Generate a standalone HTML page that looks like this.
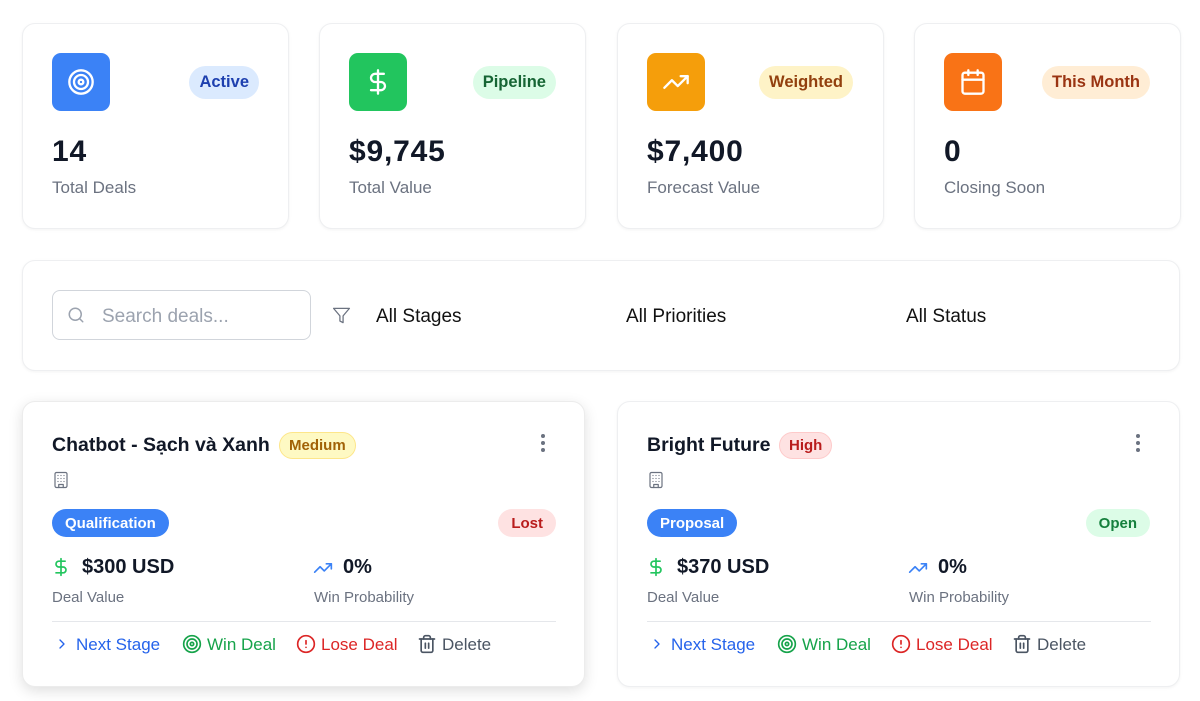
<!DOCTYPE html>
<html>
<head>
<meta charset="utf-8">
<style>
  html,body{margin:0;padding:0;}
  body{width:1200px;height:701px;background:#ffffff;position:relative;overflow:hidden;
       font-family:"Liberation Sans","Noto Sans CJK SC",sans-serif;color:#111827;}
  .abs{position:absolute;}
  .card{position:absolute;background:#fff;border:1px solid #eeeff1;border-radius:13px;
        box-shadow:0 1px 3px rgba(0,0,0,0.05);box-sizing:border-box;}
  .ibox{position:absolute;width:58px;height:58px;border-radius:9px;display:flex;align-items:center;justify-content:center;}
  .badge{position:absolute;height:33px;line-height:33px;padding:0 10px;border-radius:999px;font-size:16.5px;font-weight:bold;white-space:nowrap;}
  .num{position:absolute;font-size:30px;line-height:30px;font-weight:bold;letter-spacing:0.8px;color:#111827;white-space:nowrap;}
  .lbl{position:absolute;font-size:17px;line-height:17px;color:#6b7280;white-space:nowrap;}
  .t19{position:absolute;font-size:19px;line-height:19px;white-space:nowrap;}
  .title{position:absolute;font-size:19.5px;line-height:19.5px;font-weight:bold;color:#111827;white-space:nowrap;}
  .prio{position:absolute;height:27px;line-height:26px;box-sizing:border-box;padding:0 9px;border-radius:999px;font-size:15px;font-weight:bold;white-space:nowrap;}
  .pill{position:absolute;top:509px;height:28px;line-height:30px;padding:0 13px;border-radius:999px;font-size:15px;font-weight:bold;white-space:nowrap;}
  .val{position:absolute;top:557.4px;font-size:20px;line-height:20px;font-weight:bold;color:#111827;white-space:nowrap;}
  .sub{position:absolute;top:589.6px;font-size:15px;line-height:15px;color:#6b7280;white-space:nowrap;}
  .act{position:absolute;top:635.6px;font-size:17px;line-height:17px;white-space:nowrap;}
  .dot{position:absolute;width:4px;height:4px;border-radius:50%;background:#6b7280;}
  svg{position:absolute;overflow:visible;}
</style>
</head>
<body>

<!-- ===== Stat cards ===== -->
<div class="card" style="left:22px;top:23px;width:267px;height:206px;"></div>
<div class="card" style="left:319px;top:23px;width:267px;height:206px;"></div>
<div class="card" style="left:617px;top:23px;width:267px;height:206px;"></div>
<div class="card" style="left:914px;top:23px;width:267px;height:206px;"></div>

<!-- card 1 -->
<div class="ibox" style="left:52px;top:53px;background:#3b82f6;">
  <svg style="position:static" width="28" height="28" viewBox="0 0 24 24" fill="none" stroke="#fff" stroke-width="2" stroke-linecap="round" stroke-linejoin="round">
    <circle cx="12" cy="12" r="10"/><circle cx="12" cy="12" r="6"/><circle cx="12" cy="12" r="2"/>
  </svg>
</div>
<div class="badge" style="right:941px;top:66px;background:#dbeafe;color:#1e40af;">Active</div>
<div class="num" style="left:52px;top:137.3px;">14</div>
<div class="lbl" style="left:52px;top:178.9px;">Total Deals</div>

<!-- card 2 -->
<div class="ibox" style="left:349px;top:53px;background:#22c55e;">
  <svg style="position:static" width="28" height="28" viewBox="0 0 24 24" fill="none" stroke="#fff" stroke-width="2" stroke-linecap="round" stroke-linejoin="round">
    <line x1="12" y1="2" x2="12" y2="22"/><path d="M17 5H9.5a3.5 3.5 0 0 0 0 7h5a3.5 3.5 0 0 1 0 7H6"/>
  </svg>
</div>
<div class="badge" style="right:644px;top:66px;background:#dcfce7;color:#166534;">Pipeline</div>
<div class="num" style="left:349px;top:137.3px;">$9,745</div>
<div class="lbl" style="left:349px;top:178.9px;">Total Value</div>

<!-- card 3 -->
<div class="ibox" style="left:647px;top:53px;background:#f59e0b;">
  <svg style="position:static" width="28" height="28" viewBox="0 0 24 24" fill="none" stroke="#fff" stroke-width="2" stroke-linecap="round" stroke-linejoin="round">
    <polyline points="22 7 13.5 15.5 8.5 10.5 2 17"/><polyline points="16 7 22 7 22 13"/>
  </svg>
</div>
<div class="badge" style="right:347px;top:66px;background:#fef3c7;color:#92400e;">Weighted</div>
<div class="num" style="left:647px;top:137.3px;">$7,400</div>
<div class="lbl" style="left:647px;top:178.9px;">Forecast Value</div>

<!-- card 4 -->
<div class="ibox" style="left:944px;top:53px;background:#f97316;">
  <svg style="position:static" width="28" height="28" viewBox="0 0 24 24" fill="none" stroke="#fff" stroke-width="2" stroke-linecap="round" stroke-linejoin="round">
    <rect x="3" y="4" width="18" height="18" rx="2"/><line x1="16" y1="2" x2="16" y2="6"/><line x1="8" y1="2" x2="8" y2="6"/><line x1="3" y1="10" x2="21" y2="10"/>
  </svg>
</div>
<div class="badge" style="right:50px;top:66px;background:#ffedd5;color:#9a3412;">This Month</div>
<div class="num" style="left:944px;top:137.3px;">0</div>
<div class="lbl" style="left:944px;top:178.9px;">Closing Soon</div>

<!-- ===== Filter panel ===== -->
<div class="card" style="left:22px;top:260px;width:1158px;height:111px;"></div>
<div class="abs" style="left:52px;top:290px;width:259px;height:50px;border:1px solid #d1d5db;border-radius:8px;box-sizing:border-box;background:#fff;"></div>
<svg style="left:67px;top:306px;" width="18" height="18" viewBox="0 0 24 24" fill="none" stroke="#9ca3af" stroke-width="2" stroke-linecap="round" stroke-linejoin="round">
  <circle cx="11" cy="11" r="8"/><line x1="21" y1="21" x2="16.65" y2="16.65"/>
</svg>
<div class="t19" style="left:102px;top:306.9px;color:#9ca3af;">Search deals...</div>
<svg style="left:332px;top:306px;" width="19" height="19" viewBox="0 0 24 24" fill="none" stroke="#6b7280" stroke-width="1.6" stroke-linecap="round" stroke-linejoin="round">
  <polygon points="22 3 2 3 10 12.46 10 19 14 21 14 12.46 22 3"/>
</svg>
<div class="t19" style="left:376px;top:306.9px;color:#111;">All Stages</div>
<div class="t19" style="left:626px;top:306.9px;color:#111;">All Priorities</div>
<div class="t19" style="left:906px;top:306.9px;color:#111;">All Status</div>

<!-- ===== Deal card 1 ===== -->
<div class="card" style="left:22px;top:401px;width:563px;height:286px;box-shadow:0 4px 14px rgba(0,0,0,0.13);border-color:#ececec;"></div>
<div class="title" style="left:52px;top:436.2px;">Chatbot - Sạch và Xanh</div>
<div class="prio" style="left:279px;top:432px;background:#fef9c3;color:#a16207;border:1px solid #fde68a;">Medium</div>
<div class="dot" style="left:541px;top:434px;"></div>
<div class="dot" style="left:541px;top:441px;"></div>
<div class="dot" style="left:541px;top:448px;"></div>
<svg style="left:52px;top:471px;" width="18" height="18" viewBox="0 0 24 24" fill="none" stroke="#6b7280" stroke-width="1.6" stroke-linecap="round" stroke-linejoin="round">
  <rect x="4" y="2" width="16" height="20" rx="2"/><path d="M9 22v-4h6v4"/>
  <path d="M8 6h.01M12 6h.01M16 6h.01M8 10h.01M12 10h.01M16 10h.01M8 14h.01M12 14h.01M16 14h.01"/>
</svg>
<div class="pill" style="left:52px;background:#3b82f6;color:#fff;">Qualification</div>
<div class="pill" style="right:644px;background:#fee2e2;color:#b91c1c;">Lost</div>
<svg style="left:51px;top:557px;" width="20" height="20" viewBox="0 0 24 24" fill="none" stroke="#22c55e" stroke-width="2" stroke-linecap="round" stroke-linejoin="round">
  <line x1="12" y1="2" x2="12" y2="22"/><path d="M17 5H9.5a3.5 3.5 0 0 0 0 7h5a3.5 3.5 0 0 1 0 7H6"/>
</svg>
<div class="val" style="left:82px;">$300 USD</div>
<svg style="left:313px;top:558px;" width="20" height="20" viewBox="0 0 24 24" fill="none" stroke="#3b82f6" stroke-width="2" stroke-linecap="round" stroke-linejoin="round">
  <polyline points="22 7 13.5 15.5 8.5 10.5 2 17"/><polyline points="16 7 22 7 22 13"/>
</svg>
<div class="val" style="left:343px;">0%</div>
<div class="sub" style="left:52px;">Deal Value</div>
<div class="sub" style="left:314px;">Win Probability</div>
<div class="abs" style="left:52px;top:621px;width:504px;height:1px;background:#e5e7eb;"></div>

<svg style="left:54px;top:636px;" width="16" height="16" viewBox="0 0 24 24" fill="none" stroke="#2563eb" stroke-width="2" stroke-linecap="round" stroke-linejoin="round"><path d="m9 18 6-6-6-6"/></svg>
<div class="act" style="left:76px;color:#2563eb;">Next Stage</div>
<svg style="left:182px;top:634px;" width="20" height="20" viewBox="0 0 24 24" fill="none" stroke="#16a34a" stroke-width="2" stroke-linecap="round" stroke-linejoin="round">
  <circle cx="12" cy="12" r="10"/><circle cx="12" cy="12" r="6"/><circle cx="12" cy="12" r="2"/>
</svg>
<div class="act" style="left:207px;color:#16a34a;">Win Deal</div>
<svg style="left:296px;top:634px;" width="20" height="20" viewBox="0 0 24 24" fill="none" stroke="#dc2626" stroke-width="2" stroke-linecap="round" stroke-linejoin="round">
  <circle cx="12" cy="12" r="10"/><line x1="12" y1="8" x2="12" y2="12"/><line x1="12" y1="16" x2="12.01" y2="16"/>
</svg>
<div class="act" style="left:321px;color:#dc2626;">Lose Deal</div>
<svg style="left:417px;top:634px;" width="20" height="20" viewBox="0 0 24 24" fill="none" stroke="#4b5563" stroke-width="2" stroke-linecap="round" stroke-linejoin="round">
  <path d="M3 6h18"/><path d="M19 6v14c0 1-1 2-2 2H7c-1 0-2-1-2-2V6"/><path d="M8 6V4c0-1 1-2 2-2h4c1 0 2 1 2 2v2"/>
  <line x1="10" y1="11" x2="10" y2="17"/><line x1="14" y1="11" x2="14" y2="17"/>
</svg>
<div class="act" style="left:442px;color:#4b5563;">Delete</div>

<!-- ===== Deal card 2 ===== -->
<div class="card" style="left:617px;top:401px;width:563px;height:286px;"></div>
<div class="title" style="left:647px;top:436.2px;">Bright Future</div>
<div class="prio" style="left:779px;top:432px;background:#fee2e2;color:#b91c1c;border:1px solid #fecaca;">High</div>
<div class="dot" style="left:1136px;top:434px;"></div>
<div class="dot" style="left:1136px;top:441px;"></div>
<div class="dot" style="left:1136px;top:448px;"></div>
<svg style="left:647px;top:471px;" width="18" height="18" viewBox="0 0 24 24" fill="none" stroke="#6b7280" stroke-width="1.6" stroke-linecap="round" stroke-linejoin="round">
  <rect x="4" y="2" width="16" height="20" rx="2"/><path d="M9 22v-4h6v4"/>
  <path d="M8 6h.01M12 6h.01M16 6h.01M8 10h.01M12 10h.01M16 10h.01M8 14h.01M12 14h.01M16 14h.01"/>
</svg>
<div class="pill" style="left:647px;background:#3b82f6;color:#fff;">Proposal</div>
<div class="pill" style="right:50px;background:#dcfce7;color:#15803d;">Open</div>
<svg style="left:646px;top:557px;" width="20" height="20" viewBox="0 0 24 24" fill="none" stroke="#22c55e" stroke-width="2" stroke-linecap="round" stroke-linejoin="round">
  <line x1="12" y1="2" x2="12" y2="22"/><path d="M17 5H9.5a3.5 3.5 0 0 0 0 7h5a3.5 3.5 0 0 1 0 7H6"/>
</svg>
<div class="val" style="left:677px;">$370 USD</div>
<svg style="left:908px;top:558px;" width="20" height="20" viewBox="0 0 24 24" fill="none" stroke="#3b82f6" stroke-width="2" stroke-linecap="round" stroke-linejoin="round">
  <polyline points="22 7 13.5 15.5 8.5 10.5 2 17"/><polyline points="16 7 22 7 22 13"/>
</svg>
<div class="val" style="left:938px;">0%</div>
<div class="sub" style="left:647px;">Deal Value</div>
<div class="sub" style="left:909px;">Win Probability</div>
<div class="abs" style="left:647px;top:621px;width:504px;height:1px;background:#e5e7eb;"></div>

<svg style="left:649px;top:636px;" width="16" height="16" viewBox="0 0 24 24" fill="none" stroke="#2563eb" stroke-width="2" stroke-linecap="round" stroke-linejoin="round"><path d="m9 18 6-6-6-6"/></svg>
<div class="act" style="left:671px;color:#2563eb;">Next Stage</div>
<svg style="left:777px;top:634px;" width="20" height="20" viewBox="0 0 24 24" fill="none" stroke="#16a34a" stroke-width="2" stroke-linecap="round" stroke-linejoin="round">
  <circle cx="12" cy="12" r="10"/><circle cx="12" cy="12" r="6"/><circle cx="12" cy="12" r="2"/>
</svg>
<div class="act" style="left:802px;color:#16a34a;">Win Deal</div>
<svg style="left:891px;top:634px;" width="20" height="20" viewBox="0 0 24 24" fill="none" stroke="#dc2626" stroke-width="2" stroke-linecap="round" stroke-linejoin="round">
  <circle cx="12" cy="12" r="10"/><line x1="12" y1="8" x2="12" y2="12"/><line x1="12" y1="16" x2="12.01" y2="16"/>
</svg>
<div class="act" style="left:916px;color:#dc2626;">Lose Deal</div>
<svg style="left:1012px;top:634px;" width="20" height="20" viewBox="0 0 24 24" fill="none" stroke="#4b5563" stroke-width="2" stroke-linecap="round" stroke-linejoin="round">
  <path d="M3 6h18"/><path d="M19 6v14c0 1-1 2-2 2H7c-1 0-2-1-2-2V6"/><path d="M8 6V4c0-1 1-2 2-2h4c1 0 2 1 2 2v2"/>
  <line x1="10" y1="11" x2="10" y2="17"/><line x1="14" y1="11" x2="14" y2="17"/>
</svg>
<div class="act" style="left:1037px;color:#4b5563;">Delete</div>

</body>
</html>
